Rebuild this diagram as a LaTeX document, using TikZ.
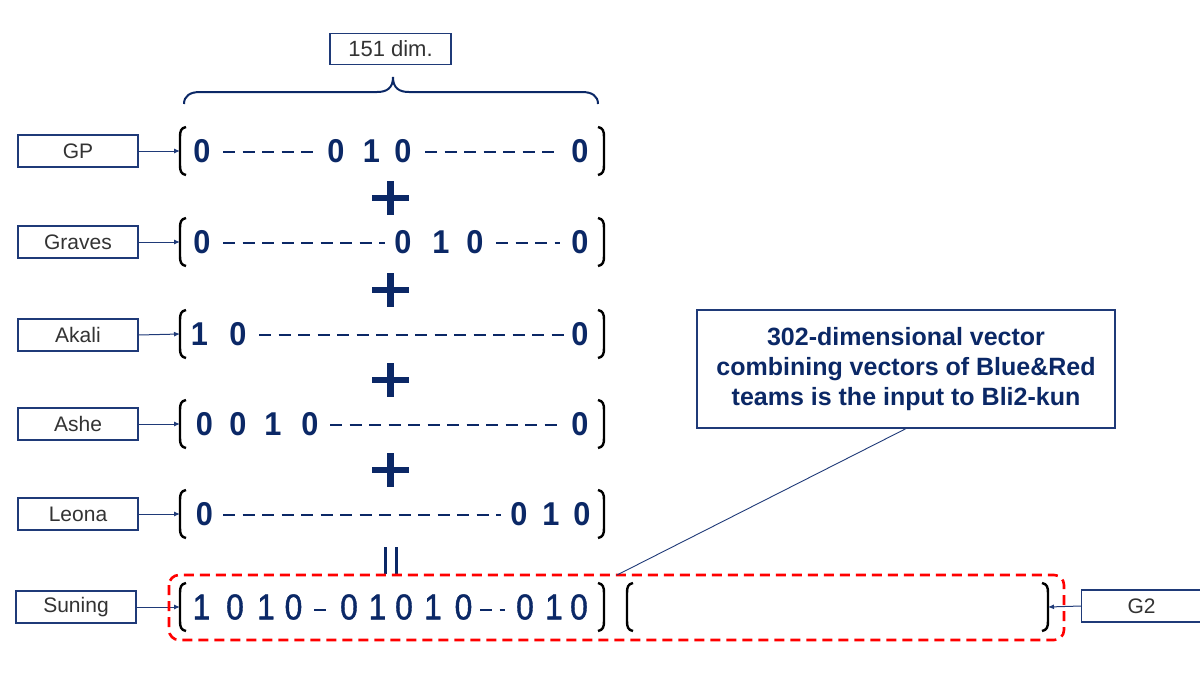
\documentclass[tikz,border=0pt]{standalone}
\usepackage{fontspec}
\setmainfont{Liberation Sans}
\newfontfamily\digfont[FakeStretch=0.93]{Liberation Sans}
\newfontfamily\sunfont[FakeStretch=0.88,FakeBold=1.2]{Liberation Sans}
\usetikzlibrary{arrows.meta}
\begin{document}
\begin{tikzpicture}[x=1pt,y=-1pt,
  lbl/.style={draw=navyb,line width=1.2pt,minimum width=120pt,minimum height=32pt,inner sep=0pt,font=\fontsize{21}{22}\selectfont,text=txtgray},
  dig/.style={inner sep=0pt,font=\digfont\fontsize{33}{33}\bfseries\selectfont,text=navy},
  sdig/.style={inner sep=0pt,font=\sunfont\fontsize{36}{36}\selectfont,text=navy},
  dsh/.style={draw=navy,line width=2.8pt,dash pattern=on 12pt off 7.5pt},
  brk/.style={draw=black,line width=2.4pt},
  pls/.style={draw=navy,line width=6.5pt},
  arr/.style={draw=navyb,line width=1pt,-{Latex[length=6pt,width=5pt]}},
]
\definecolor{navy}{HTML}{0B2866}
\definecolor{navyb}{HTML}{1F3A78}
\definecolor{txtgray}{HTML}{333333}
\useasboundingbox (0,0) rectangle (1200,675);
\fill[white] (0,0) rectangle (1200,675);

% dimension label and brace
\node[lbl,minimum width=121pt,minimum height=31pt,font=\fontsize{22}{22}\selectfont] (dim) at (390.5,49) {151 dim.};
\draw[draw=navy,line width=2pt] (184,104) .. controls (184,96) and (190,92) .. (200,92) -- (377,92) .. controls (387,92) and (393,88) .. (393,77)
  .. controls (393,88) and (399,92) .. (409,92) -- (582,92) .. controls (592,92) and (598,96) .. (598,104);

% label boxes
\node[lbl] (gp) at (78,151) {GP};
\node[lbl] (graves) at (78,242) {Graves};
\node[lbl] (akali) at (78,335) {Akali};
\node[lbl] (ashe) at (78,424) {Ashe};
\node[lbl] (leona) at (78,514) {Leona};
\node[lbl] (suning) at (76,607) {Suning};
\node[lbl,anchor=west] (g2) at (1081,606) {G2};

% brackets
\foreach \n/\y in {1/151,2/242,3/334,4/424,5/514,6/607}{
  \coordinate (L\n) at (180,\y);
  \coordinate (R\n) at (604,\y);
  \draw[brk] (186,\y-24) .. controls (181,\y-23) and (180,\y-20) .. (180,\y-14) -- (180,\y+14) .. controls (180,\y+20) and (181,\y+23) .. (186,\y+24);
  \draw[brk] (598,\y-24) .. controls (603,\y-23) and (604,\y-20) .. (604,\y-14) -- (604,\y+14) .. controls (604,\y+20) and (603,\y+23) .. (598,\y+24);
}
% second (G2) bracket pair
\coordinate (L7) at (627,607);
\coordinate (R7) at (1048,607);
\draw[brk] (633,583) .. controls (628,584) and (627,587) .. (627,593) -- (627,621) .. controls (627,627) and (628,630) .. (633,631);
\draw[brk] (1042,583) .. controls (1047,584) and (1048,587) .. (1048,593) -- (1048,621) .. controls (1048,627) and (1047,630) .. (1042,631);

% arrows
\draw[arr] (gp.east) -- (L1);
\draw[arr] (graves.east) -- (L2);
\draw[arr] (akali.east) -- (L3);
\draw[arr] (ashe.east) -- (L4);
\draw[arr] (leona.east) -- (L5);
\draw[arr] (suning.east) -- (L6);
\draw[arr] (g2.west) -- (R7);

% row 1 GP
\node[dig] (a1) at (202,151) {0};
\node[dig] (a2) at (336,151) {0};
\node[dig] (a3) at (371.5,151) {1};
\node[dig] (a4) at (403,151) {0};
\node[dig] (a5) at (580,151) {0};
\draw[dsh] (223,152) -- (314,152);
\draw[dsh] (425,152) -- (556,152);

% row 2 Graves
\node[dig] (b1) at (202,242) {0};
\node[dig] (b2) at (403,242) {0};
\node[dig] (b3) at (441,242) {1};
\node[dig] (b4) at (475,242) {0};
\node[dig] (b5) at (580,242) {0};
\draw[dsh] (223,243) -- (385,243);
\draw[dsh] (496,243) -- (560,243);

% row 3 Akali
\node[dig] (c1) at (199.5,334) {1};
\node[dig] (c2) at (238,334) {0};
\node[dig] (c3) at (580,334) {0};
\draw[dsh] (259,335) -- (564,335);

% row 4 Ashe
\node[dig] (d1) at (204.5,424) {0};
\node[dig] (d2) at (238,424) {0};
\node[dig] (d3) at (273,424) {1};
\node[dig] (d4) at (310,424) {0};
\node[dig] (d5) at (580,424) {0};
\draw[dsh] (330,425) -- (560,425);

% row 5 Leona
\node[dig] (e1) at (204.5,514) {0};
\node[dig] (e2) at (519,514) {0};
\node[dig] (e3) at (551,514) {1};
\node[dig] (e4) at (582,514) {0};
\draw[dsh] (223,515) -- (501,515);

% row 6 Suning
\node[sdig] (f1) at (201.5,607) {1};
\node[sdig] (f2) at (235,607) {0};
\node[sdig] (f3) at (266,607) {1};
\node[sdig] (f4) at (293.5,607) {0};
\node[sdig] (f5) at (349,607) {0};
\node[sdig] (f6) at (377.5,607) {1};
\node[sdig] (f7) at (404,607) {0};
\node[sdig] (f8) at (433,607) {1};
\node[sdig] (f9) at (463.5,607) {0};
\node[sdig] (f10) at (525,607) {0};
\node[sdig] (f11) at (554,607) {1};
\node[sdig] (f12) at (579,607) {0};
\draw[dsh] (314,610) -- (326,610);
\draw[dsh] (480,610) -- (505,610);

% plus signs
\foreach \y in {198,290,380,470}{
  \draw[pls] (372,\y) -- (409,\y);
  \draw[pls] (390.5,\y-17) -- (390.5,\y+17);
}
% equals (rotated)
\draw[draw=navy,line width=3pt] (385,547) -- (385,574);
\draw[draw=navy,line width=3pt] (396,547) -- (396,574);

% red dashed group
\draw[draw=red,line width=2.6pt,dash pattern=on 10pt off 6pt,rounded corners=10pt] (169,575) rectangle (1064,640);

% callout
\node[draw=navyb,line width=1.2pt,minimum width=418pt,minimum height=118pt,inner sep=0pt,align=center,
  font=\fontsize{25}{30}\bfseries\selectfont,text=navy] (call) at (906,369)
  {302-dimensional vector\\combining vectors of Blue\&Red\\teams is the input to Bli2-kun};
\coordinate (tip) at (617,575);
\draw[draw=navyb,line width=0.9pt] (call.south) -- (tip);
\end{tikzpicture}
\end{document}
